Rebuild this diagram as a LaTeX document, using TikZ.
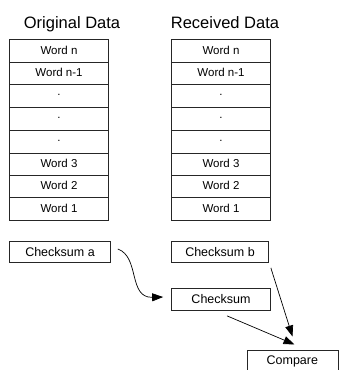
\documentclass[tikz,border=0pt]{standalone}
\usepackage{fontspec}
\setmainfont{Liberation Sans}
\usetikzlibrary{arrows.meta,positioning}
\begin{document}
\begin{tikzpicture}[x=1pt,y=-1pt,
  cell/.style={draw=black!85,line width=0.7pt,minimum width=99pt,
    inner sep=0pt,font=\fontsize{11.5}{13}\selectfont,anchor=north},
  box/.style={draw=black!85,line width=0.7pt,inner sep=0pt,
    font=\fontsize{12.5}{14}\selectfont},
  title/.style={font=\fontsize{16.5}{18}\selectfont,anchor=base},
  flow/.style={line width=0.7pt,-{Triangle[length=11pt,width=8pt]}}]
\useasboundingbox (0,0) rectangle (344,370);

% column headings
\node[title] (t1) at (72,28) {Original Data};
\node[title] (t2) at (225,28) {Received Data};

% the two word stacks: label / top edge / row height
\foreach \lbl/\top/\h [count=\i] in {Word n/38.5/23,Word n-1/61.5/22,./83.5/23,./106.5/23,
    ./129.5/23,Word 3/152.5/22,Word 2/174.5/22,Word 1/196.5/23}{
  \node[cell,minimum height=\h pt] (a\i) at (59,\top) {\lbl};
  \node[cell,minimum height=\h pt] (b\i) at (221,\top) {\lbl};
}

% checksum boxes
\node[box,minimum width=101pt,minimum height=21pt] (ca) at (60,252) {Checksum a};
\node[box,minimum width=97pt,minimum height=21pt] (cb) at (220,252) {Checksum b};
\node[box,minimum width=99pt,minimum height=22pt] (ck) at (221,299.5) {Checksum};
\node[box,minimum width=91pt,minimum height=23pt,anchor=north west] (cmp) at (246.5,349.5) {Compare};

% arrow end points (yshift is in page direction: positive is up)
\coordinate (s1) at ([xshift=7pt,yshift=3pt]ca.east);
\coordinate (e1) at ([xshift=-8pt,yshift=2.5pt]ck.west);
\coordinate (s2) at ([xshift=6pt,yshift=-5pt]ck.south);
\coordinate (e2) at ([xshift=48pt,yshift=5pt]cmp.north west);
\coordinate (s3) at ([xshift=2pt,yshift=-5pt]cb.south east);
\coordinate (e3) at ([xshift=46pt,yshift=13pt]cmp.north west);

\draw[flow] (s1) .. controls (140,257) and (128,298) .. (e1);
\draw[flow] (s2) -- (e2);
\draw[flow] (s3) -- (e3);
\end{tikzpicture}
\end{document}
